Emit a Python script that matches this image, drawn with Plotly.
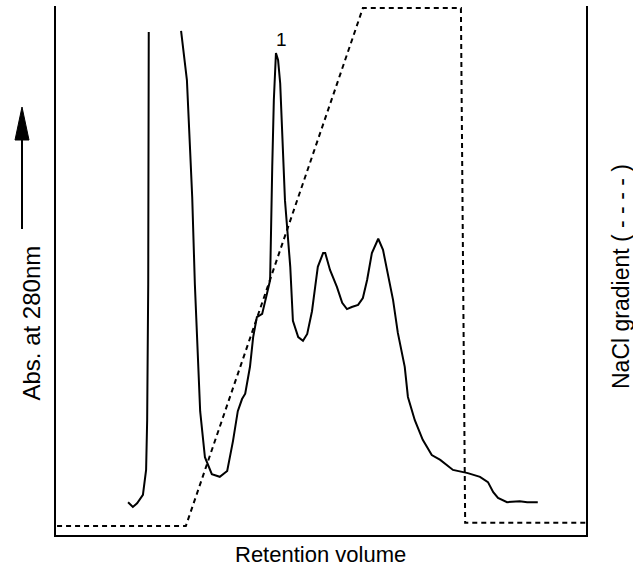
import plotly.graph_objects as go

# Absorbance trace (retention volume 0-100, absorbance 0-100 relative units)
abs_x = [13.6, 14.2, 14.5, 15.3, 16.4, 17.0, 17.2, 17.4, 17.4, 17.5, None,
         23.6, 24.2, 24.7, 25.3, 25.7, 26.2, 26.6, 27.2, 28.1, 29.4, 30.9,
         32.3, 33.4, 34.3, 35.1, 35.7, 36.6, 37.2, 37.9, 38.9, 39.8, 40.4,
         40.8, 41.1, 41.5, 41.9, 42.3, 43.2, 44.2, 44.7, 45.7, 46.6, 47.4,
         48.3, 48.9, 49.4, 50.4, 50.8, 51.7, 53.0, 54.0, 54.9, 55.8, 57.0,
         57.9, 58.7, 59.6, 60.8, 61.7, 62.6, 63.6, 64.5, 65.8, 66.4, 67.7,
         69.2, 70.9, 72.5, 74.9, 77.7, 80.0, 81.5, 82.5, 83.4, 85.1, 87.5,
         88.9, 90.9]
abs_y = [6.2, 5.7, 5.3, 6.0, 7.6, 12.3, 21.7, 47.4, 72.8, 95.1, None,
         95.3, 89.8, 86.0, 72.8, 63.9, 47.4, 38.0, 23.4, 14.7, 11.5, 11.0,
         12.1, 17.8, 23.4, 25.7, 26.7, 31.8, 37.4, 41.2, 41.8, 45.6, 48.2,
         69.6, 82.2, 91.1, 89.8, 85.4, 63.3, 50.7, 40.5, 37.4, 36.7, 38.0,
         42.3, 46.9, 50.7, 53.3, 53.3, 50.1, 46.9, 43.9, 42.7, 43.1, 43.5,
         44.8, 48.2, 53.3, 56.0, 53.9, 49.5, 44.4, 38.2, 31.8, 26.1, 21.7,
         18.0, 15.1, 14.2, 12.3, 11.7, 11.0, 10.0, 8.1, 7.0, 6.2, 6.4,
         6.2, 6.2]

# NaCl gradient (relative, 0-100)
grad_x = [0.2, 24.5, 57.9, 76.4, 77.2, 100.0]
grad_y = [1.7, 1.7, 99.6, 99.6, 2.3, 2.3]

peak_label = "1"
peak_label_x = 42.6
peak_label_y = 93.6

FONT = "Arial, Liberation Sans, sans-serif"

fig = go.Figure()
fig.add_trace(go.Scatter(x=abs_x, y=abs_y, mode="lines",
                         line=dict(color="black", width=2),
                         connectgaps=False, showlegend=False, hoverinfo="skip"))
fig.add_trace(go.Scatter(x=grad_x, y=grad_y, mode="lines", yaxis="y2",
                         line=dict(color="black", width=2, dash="5px,4px"),
                         showlegend=False, hoverinfo="skip"))

axis_common = dict(showgrid=False, zeroline=False, showticklabels=False,
                   ticks="", showline=True, linecolor="black", linewidth=2)

fig.update_layout(
    width=633, height=574,
    margin=dict(l=56, r=47, t=6, b=39),
    paper_bgcolor="white", plot_bgcolor="white",
    xaxis=dict(range=[0, 100], **axis_common),
    yaxis=dict(range=[0, 100], **axis_common),
    yaxis2=dict(range=[0, 100], overlaying="y", side="right", **axis_common),
    font=dict(family=FONT, color="black"),
)

def px_x(p):
    return (p - 56) / 530.0

def px_y(p):
    return (535 - p) / 529.0

annotations = [
    dict(text=peak_label, x=peak_label_x, y=peak_label_y, xref="x", yref="y",
         showarrow=False, font=dict(size=19, family=FONT, color="black"),
         xanchor="center", yanchor="middle"),
    dict(text="Retention volume", x=px_x(320), y=px_y(554.5), xref="paper", yref="paper",
         showarrow=False, font=dict(size=22, family=FONT, color="black"),
         xanchor="center", yanchor="middle"),
    dict(text="Abs. at 280nm", x=px_x(30.5), y=px_y(323), xref="paper", yref="paper",
         showarrow=False, textangle=-90, font=dict(size=24, family=FONT, color="black"),
         xanchor="center", yanchor="middle"),
    dict(text="NaCl gradient ( - - - - )", x=px_x(620.5), y=px_y(276.5), xref="paper", yref="paper",
         showarrow=False, textangle=-90, font=dict(size=23, family=FONT, color="black"),
         xanchor="center", yanchor="middle"),
]
fig.update_layout(annotations=annotations)

# Upward arrow beside the absorbance label
shapes = [
    dict(type="line", xref="paper", yref="paper",
         x0=px_x(22), x1=px_x(22), y0=px_y(229), y1=px_y(132),
         line=dict(color="black", width=2)),
    dict(type="path", xref="paper", yref="paper",
         path="M {a},{b} L {c},{d} L {e},{f} Z".format(
             a=px_x(22), b=px_y(107), c=px_x(15), d=px_y(140), e=px_x(29), f=px_y(140)),
         fillcolor="black", line=dict(color="black", width=1)),
]
fig.update_layout(shapes=shapes)

fig.write_html("out.html",
               config={"displayModeBar": False, "staticPlot": True},
               post_script="document.body.style.margin='0px';document.body.style.overflow='hidden';")
